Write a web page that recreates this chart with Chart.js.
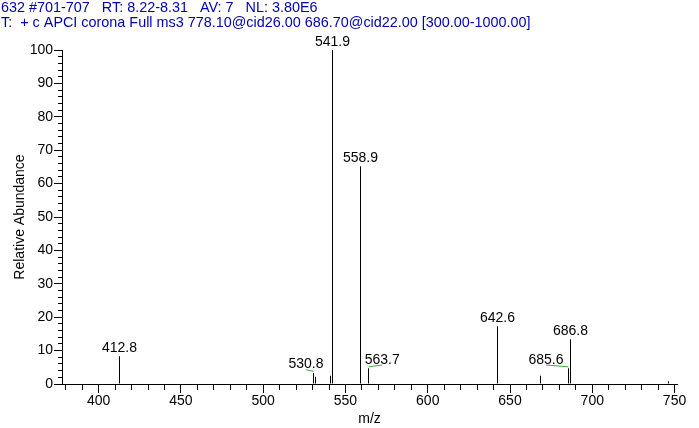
<!DOCTYPE html>
<html>
<head>
<meta charset="utf-8">
<script src="https://cdn.jsdelivr.net/npm/chart.js@4"></script>
<style>
html,body{margin:0;padding:0;background:#fff;}
canvas{display:block;}
</style>
</head>
<body>
<canvas id="c" width="699" height="428"></canvas>
<script>
// ---------- data ----------
const headerLine1 = '632 #701-707   RT: 8.22-8.31   AV: 7   NL: 3.80E6';
const headerLine2 = 'T:  + c APCI corona Full ms3 778.10@cid26.00 686.70@cid22.00 [300.00-1000.00]';
const mzValues   = [412.8, 530.8, 531.8, 540.8, 541.9, 558.9, 563.7, 642.6, 668.5, 685.6, 686.8, 746.3];
const abundances = [8.3,   3.3,   2.2,   2.5,   100,   65.2,  4.7,   17.3,  2.5,   4.7,   13.4,  0.8];
const labelledPeaks = [412.8, 530.8, 541.9, 558.9, 563.7, 642.6, 685.6, 686.8];
const xTickValues = [400, 450, 500, 550, 600, 650, 700, 750];
const yTickValues = [0, 10, 20, 30, 40, 50, 60, 70, 80, 90, 100];
const xRange = [377.7, 751.5];
const yRange = [0, 100];
const xAxisTitle = 'm/z';
const yAxisTitle = 'Relative Abundance';

// ---------- style ----------
const FONT = "'Liberation Sans', Arial, sans-serif";
const labelShiftPx = {'530.8': -7.6, '563.7': 13.7, '685.6': -22.6};

// snap the library-computed bar centres to the pixel grid so the sticks render crisp
const crispBars = {
  id: 'crispBars',
  beforeDatasetsDraw(chart) {
    chart.getDatasetMeta(0).data.forEach(el => { el.x = Math.floor(el.x) + 0.5; });
  }
};

const peakLabelPlugin = {
  id: 'peakLabels',
  afterDatasetsDraw(chart) {
    const ctx = chart.ctx;
    const meta = chart.getDatasetMeta(0);
    ctx.save();
    ctx.font = '14px ' + FONT;
    ctx.textAlign = 'center';
    ctx.textBaseline = 'alphabetic';
    meta.data.forEach((el, i) => {
      const mz = mzValues[i];
      if (!labelledPeaks.includes(mz)) return;
      const txt = mz.toFixed(1);
      const shift = labelShiftPx[txt] || 0;
      const px = el.x, py = el.y;
      const cx = px + shift;
      if (shift !== 0) {
        ctx.strokeStyle = '#3cae3c';
        ctx.lineWidth = 1;
        ctx.beginPath();
        ctx.moveTo(cx, py - 3.3);
        ctx.lineTo(px, py - 1.5);
        ctx.stroke();
      }
      ctx.fillStyle = '#000';
      ctx.fillText(txt, cx, py - 4.5);
    });
    ctx.restore();
  }
};

new Chart(document.getElementById('c'), {
  type: 'bar',
  data: {
    datasets: [{
      data: mzValues.map((x, i) => ({x: x, y: abundances[i]})),
      backgroundColor: '#000',
      borderWidth: 0,
      barThickness: 1,
      inflateAmount: 0,
      xAxisID: 'x',
      yAxisID: 'y'
    }]
  },
  options: {
    responsive: false,
    animation: false,
    devicePixelRatio: 1,
    layout: {padding: {left: 1, right: 22, top: 0, bottom: 0}},
    plugins: {
      legend: {display: false},
      tooltip: {enabled: false},
      title: {
        display: true, text: headerLine1, align: 'start', color: '#0000b4',
        font: {family: FONT, size: 14.4, weight: 'normal', lineHeight: 1.0},
        padding: {top: 1, bottom: 0}
      },
      subtitle: {
        display: true, text: headerLine2, align: 'start', color: '#0000b4',
        font: {family: FONT, size: 14.4, weight: 'normal', lineHeight: 1.0},
        padding: {top: 0, bottom: 20.2}
      }
    },
    scales: {
      x: {
        type: 'linear', position: 'bottom', weight: 1,
        min: xRange[0], max: xRange[1], offset: false,
        afterBuildTicks: s => { s.ticks = xTickValues.map(v => ({value: v})); },
        afterFit: s => { s.height = 44; },
        grid: {display: true, drawOnChartArea: false, offset: false, tickLength: 9, tickColor: '#000', tickWidth: 1},
        border: {display: true, color: '#000', width: 1},
        ticks: {color: '#000', padding: 0, maxRotation: 0, font: {family: FONT, size: 14}},
        title: {display: true, text: xAxisTitle, color: '#000', font: {family: FONT, size: 14}, padding: {top: 0, bottom: 0.6}}
      },
      x2: {
        type: 'linear', position: 'bottom', weight: 0,
        min: xRange[0], max: xRange[1], offset: false,
        ticks: {display: false, stepSize: 10, maxTicksLimit: 1000, includeBounds: false},
        afterFit: s => { s.height = 0; },
        grid: {display: true, drawOnChartArea: false, offset: false, tickLength: 6, tickColor: '#000', tickWidth: 1},
        border: {display: false}
      },
      y: {
        type: 'linear', position: 'left', weight: 1,
        min: yRange[0], max: yRange[1],
        afterBuildTicks: s => { s.ticks = yTickValues.map(v => ({value: v})); },
        afterFit: s => { s.width = 61; },
        grid: {display: true, drawOnChartArea: false, tickLength: 8, tickColor: '#000', tickWidth: 1},
        border: {display: true, color: '#000', width: 1},
        ticks: {color: '#000', padding: 1, font: {family: FONT, size: 14}},
        title: {display: true, text: yAxisTitle, color: '#000', font: {family: FONT, size: 14}, padding: {top: 10.6, bottom: 0}}
      },
      y2: {
        type: 'linear', position: 'left', weight: 0,
        min: yRange[0], max: yRange[1],
        ticks: {display: false, stepSize: 2, maxTicksLimit: 1000, includeBounds: false},
        afterFit: s => { s.width = 0; },
        grid: {display: true, drawOnChartArea: false, tickLength: 4, tickColor: '#000', tickWidth: 1},
        border: {display: false}
      }
    }
  },
  plugins: [crispBars, peakLabelPlugin]
});
</script>
</body>
</html>
